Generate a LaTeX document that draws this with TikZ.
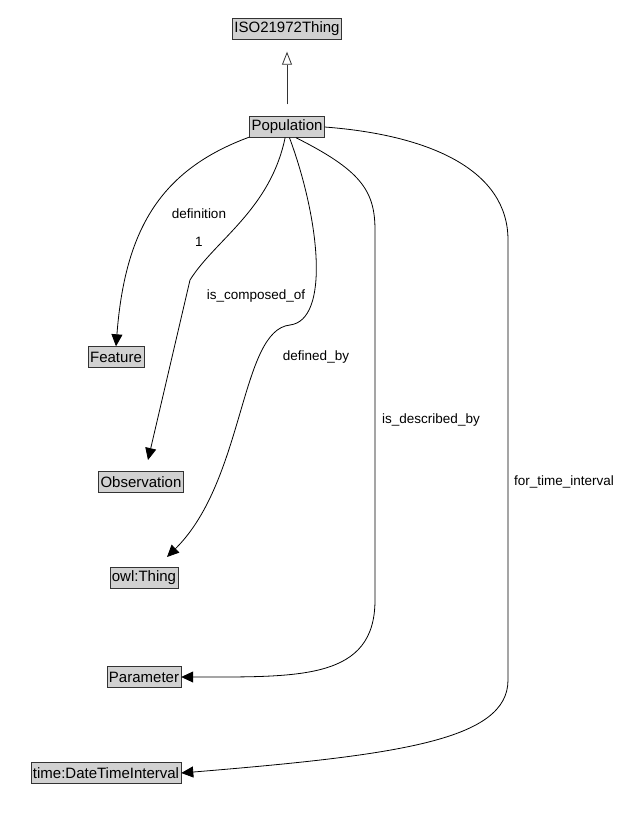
\documentclass[tikz,border=0pt]{standalone}
\usepackage{fontspec}
\setmainfont{Liberation Sans}
\usetikzlibrary{arrows.meta}
\begin{document}
\begin{tikzpicture}[x=1pt,y=-1pt,
  cls/.style={draw=black!80,fill=black!18,font=\fontsize{15}{17}\selectfont,inner sep=2pt,minimum height=21pt},
  lbl/.style={font=\fontsize{13.5}{15}\selectfont,fill=white,inner sep=1pt},
  rel/.style={-{Triangle[length=12pt,width=11pt]},thick}]
\useasboundingbox (0,0) rectangle (631,825);

\node[cls] (thing) at (287,29) {ISO21972Thing};
\node[cls] (pop) at (287,127) {Population};
\node[cls] (feat) at (116,357) {Feature};
\node[cls] (obs) at (141,482) {Observation};
\node[cls] (owl) at (144,578) {owl:Thing};
\node[cls] (par) at (144,677) {Parameter};
\node[cls] (time) at (106,773) {time:DateTimeInterval};

\draw[-{Triangle[open,length=13pt,width=10pt]},thick,black!80,shorten <=12pt,shorten >=12pt] (pop) -- (thing);

\draw[rel] (pop.195) .. controls (160,170) and (125,230) .. (feat.north);
\node[lbl] at (199,214) {definition};
\node[lbl] at (199,242) {1};

\draw[rel] (pop.260) .. controls (270,210) and (215,240) .. (190,280) -- (148,460);
\node[lbl] at (256,296) {is\_composed\_of};

\draw[rel] (pop.283) .. controls (320,220) and (330,320) .. (290,325)
  .. controls (240,330) and (245,480) .. (167,557);
\node[lbl] at (316,357) {defined\_by};

\draw[rel] (pop.310) .. controls (360,170) and (375,190) .. (375,230) -- (375,600)
  .. controls (375,680) and (300,677) .. (par.east);
\node[lbl] at (431,420) {is\_described\_by};

\draw[rel] (pop.east) .. controls (430,135) and (508,170) .. (508,240) -- (508,680)
  .. controls (508,740) and (400,755) .. (time.east);
\node[lbl] at (564,482) {for\_time\_interval};
\end{tikzpicture}
\end{document}
